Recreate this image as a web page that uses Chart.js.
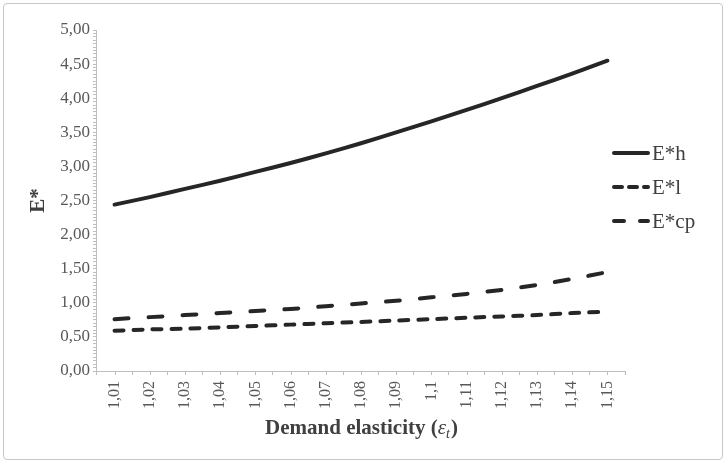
<!DOCTYPE html>
<html>
<head>
<meta charset="utf-8">
<script src="https://cdn.jsdelivr.net/npm/chart.js@4.4.1/dist/chart.umd.min.js"></script>
<style>
  html, body { margin: 0; padding: 0; background: #fff; }
  #box {
    position: absolute; left: 3px; top: 3px; width: 720px; height: 457px;
    border: 1px solid #c8c8c8; border-radius: 4px; box-sizing: border-box;
  }
  #wrap { position: absolute; left: 0; top: 0; width: 728px; height: 465px; }
</style>
</head>
<body>
<div id="box"></div>
<div id="wrap"><canvas id="chart" width="728" height="465"></canvas></div>
<script>
// categorias (elasticidade da demanda)
const categories = ['1,01', '1,02', '1,03', '1,04', '1,05', '1,06', '1,07', '1,08',
                    '1,09', '1,1', '1,11', '1,12', '1,13', '1,14', '1,15'];

// séries
const eH  = [2.44, 2.55, 2.67, 2.79, 2.92, 3.05, 3.19, 3.34, 3.50, 3.66, 3.83, 4.00, 4.18, 4.36, 4.55];
const eL  = [0.59, 0.61, 0.62, 0.64, 0.66, 0.68, 0.70, 0.72, 0.74, 0.76, 0.78, 0.80, 0.82, 0.85, 0.87];
const eCP = [0.76, 0.79, 0.82, 0.85, 0.88, 0.91, 0.95, 0.99, 1.03, 1.08, 1.13, 1.19, 1.26, 1.35, 1.45];

const seriesNames = ['E*h', 'E*l', 'E*cp'];

const yMin = 0, yMax = 5, yStep = 0.5, yMinor = 0.05;

const lineColor = '#262626';
const axisColor = '#bfbfbf';
const textColor = '#595959';
const serif = '"Liberation Serif", "Times New Roman", serif';

// ticks no centro das categorias + legenda + título do eixo x com subscrito
const extras = {
  id: 'extras',
  afterDraw(chart) {
    const ctx = chart.ctx;
    const x = chart.scales.x;
    const area = chart.chartArea;
    ctx.save();
    ctx.strokeStyle = axisColor;
    ctx.lineWidth = 1;
    categories.forEach((c, i) => {
      const px = Math.round(x.getPixelForValue(i)) + 0.5;
      ctx.beginPath();
      ctx.moveTo(px, area.bottom);
      ctx.lineTo(px, area.bottom + 4);
      ctx.stroke();
    });
    // legenda
    const lx0 = 612, lx1 = 650, ly = [153, 187, 221];
    chart.data.datasets.forEach((ds, i) => {
      ctx.strokeStyle = ds.borderColor;
      ctx.lineWidth = ds.borderWidth;
      ctx.lineCap = 'round';
      ctx.setLineDash(ds.legendDash || []);
      ctx.beginPath();
      ctx.moveTo(lx0 + 2, ly[i]);
      ctx.lineTo(lx1 - 2, ly[i]);
      ctx.stroke();
      ctx.setLineDash([]);
      ctx.fillStyle = '#404040';
      ctx.font = '21px ' + serif;
      ctx.textBaseline = 'middle';
      ctx.textAlign = 'left';
      ctx.fillText(ds.label, lx1 + 2, ly[i] + 1);
    });
    // título do eixo x
    const cx = (area.left + area.right) / 2;
    const ty = 434;
    const p1 = 'Demand elasticity (';
    ctx.fillStyle = '#404040';
    ctx.textBaseline = 'alphabetic';
    ctx.textAlign = 'left';
    ctx.font = 'bold 21px ' + serif;
    const w1 = ctx.measureText(p1).width;
    ctx.font = 'italic 21px ' + serif;
    const w2 = ctx.measureText('ε').width;
    ctx.font = 'italic 14px ' + serif;
    const w3 = ctx.measureText('t').width;
    ctx.font = 'bold 21px ' + serif;
    const w4 = ctx.measureText(')').width;
    let sx = cx - (w1 + w2 + w3 + w4) / 2;
    ctx.fillText(p1, sx, ty); sx += w1;
    ctx.font = 'italic 21px ' + serif;
    ctx.fillText('ε', sx, ty); sx += w2;
    ctx.font = 'italic 14px ' + serif;
    ctx.fillText('t', sx, ty + 4); sx += w3 + 1;
    ctx.font = 'bold 21px ' + serif;
    ctx.fillText(')', sx, ty);
    ctx.restore();
  }
};

new Chart(document.getElementById('chart'), {
  type: 'line',
  data: {
    labels: categories,
    datasets: [
      { label: seriesNames[0], data: eH, borderColor: lineColor, borderWidth: 4,
        borderCapStyle: 'round', pointRadius: 0, tension: 0.3, legendDash: [] },
      { label: seriesNames[1], data: eL, borderColor: lineColor, borderWidth: 4,
        borderCapStyle: 'round', borderDash: [9, 10], pointRadius: 0, tension: 0.3,
        legendDash: [8, 7] },
      { label: seriesNames[2], data: eCP, borderColor: lineColor, borderWidth: 4,
        borderCapStyle: 'round', borderDash: [14, 20], pointRadius: 0, tension: 0.3,
        legendDash: [10, 16] }
    ]
  },
  options: {
    responsive: false,
    animation: false,
    layout: { padding: { left: 22, right: 103, top: 30, bottom: 50 } },
    plugins: { legend: { display: false }, tooltip: { enabled: false } },
    scales: {
      x: {
        offset: true,
        grid: { offset: true, drawOnChartArea: false, drawTicks: true, tickLength: 4,
                color: axisColor },
        border: { color: axisColor, width: 1 },
        ticks: { color: textColor, font: { family: serif, size: 16 },
                 minRotation: 90, maxRotation: 90, autoSkip: false, padding: 6 }
      },
      y: {
        min: yMin, max: yMax,
        grid: { drawOnChartArea: false, drawTicks: true, tickLength: 4, color: axisColor },
        border: { color: axisColor, width: 1 },
        ticks: {
          stepSize: yMinor, autoSkip: false, color: textColor, padding: 3,
          font: { family: serif, size: 17 },
          callback: (v) => {
            const k = Math.round(v / yStep * 1000) / 1000;
            return Number.isInteger(k) ? v.toFixed(2).replace('.', ',') : '';
          }
        },
        title: { display: true, text: 'E*', color: '#404040',
                 font: { family: serif, size: 21, weight: 'bold' }, padding: { bottom: 6 } }
      }
    }
  },
  plugins: [extras]
});
</script>
</body>
</html>
